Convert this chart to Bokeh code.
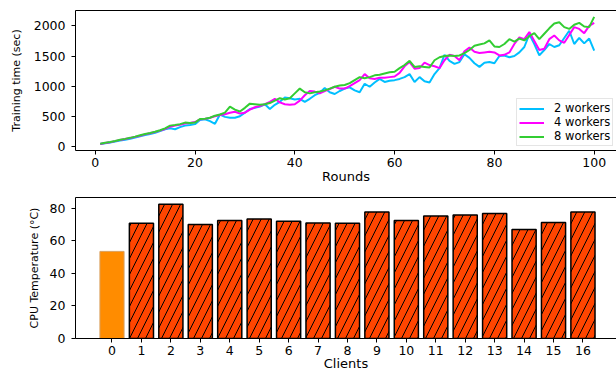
from bokeh.plotting import figure
from bokeh.layouts import column
from bokeh.models import Range1d, FixedTicker, LinearAxis
from bokeh.embed import file_html
from bokeh.resources import INLINE

# ---------------- data ----------------
rounds = list(range(1, 101))
w2 = [40, 52, 66, 82, 98, 112, 128, 148, 168, 188,
      205, 225, 255, 285, 300, 285, 320, 345, 355, 370,
      440, 450, 420, 375, 530, 490, 475, 475, 500, 560,
      620, 640, 660, 700, 620, 690, 740, 810, 800, 780,
      790, 740, 790, 850, 890, 970, 900, 870, 920, 960,
      980, 930, 900, 1040, 990, 1060, 1120, 1070, 1090, 1100,
      1120, 1150, 1200, 1070, 1150, 1080, 1060, 1200, 1300, 1520,
      1420, 1370, 1400, 1530, 1470, 1380, 1320, 1390, 1400, 1380,
      1500, 1510, 1480, 1500, 1560, 1650, 1860, 1700, 1510, 1600,
      1700, 1650, 1680, 1800, 1920, 1700, 1800, 1710, 1790, 1590]
w4 = [40, 55, 70, 88, 108, 122, 138, 158, 178, 200,
      218, 240, 262, 290, 325, 345, 360, 380, 390, 405,
      450, 455, 475, 500, 520, 535, 560, 575, 545, 560,
      610, 650, 670, 700, 740, 790, 730, 700, 690, 700,
      760, 850, 920, 910, 880, 920, 950, 990, 960, 960,
      1000, 1050, 1100, 1200, 1130, 1120, 1140, 1140, 1150, 1160,
      1220, 1330, 1400, 1290, 1300, 1390, 1350, 1330, 1300, 1430,
      1520, 1500, 1430, 1580, 1640, 1570, 1550, 1560, 1570, 1560,
      1510, 1520, 1560, 1700, 1810, 1780, 1900, 1750, 1600, 1620,
      1780, 1840, 1760, 1720, 1850, 1980, 1950, 1880, 2000, 2050]
w8 = [45, 60, 74, 90, 110, 125, 142, 162, 185, 205,
      222, 242, 268, 300, 345, 355, 370, 395, 390, 395,
      455, 460, 475, 510, 530, 560, 660, 610, 580, 640,
      710, 700, 690, 700, 720, 760, 800, 780, 800, 880,
      960, 900, 880, 900, 910, 930, 960, 990, 1010, 1020,
      1050, 1100, 1150, 1130, 1150, 1180, 1190, 1210, 1230, 1240,
      1300, 1350, 1420, 1320, 1330, 1320, 1310, 1430, 1480, 1500,
      1510, 1500, 1510, 1550, 1600, 1670, 1690, 1710, 1760, 1660,
      1650, 1700, 1780, 1740, 1790, 1760, 1830, 1880, 1780, 1870,
      1960, 2040, 2060, 1980, 1950, 2020, 2050, 1990, 1980, 2150]
series_names = ["2 workers", "4 workers", "8 workers"]
series_colors = ["#00BFFF", "#FF00FF", "#32CD32"]
round_ticks = [0, 20, 40, 60, 80, 100]
time_ticks = [0, 500, 1000, 1500, 2000]

clients = list(range(17))
temps = [53.5, 70.8, 82.5, 70.0, 72.4, 73.4, 72.0, 71.0, 70.8,
         77.7, 72.4, 75.3, 75.8, 76.7, 67.0, 71.2, 77.7]
temp_ticks = [0, 20, 40, 60, 80]

FONT = "DejaVu Sans"


def style_axes(p, ylabel_size, xlabel_standoff):
    p.grid.grid_line_color = None
    p.outline_line_color = None
    for ax in p.xaxis + p.yaxis:
        ax.axis_line_color = "black"
        ax.axis_line_width = 1
        ax.major_tick_line_color = "black"
        ax.major_tick_out = 4
        ax.major_tick_in = 0
        ax.minor_tick_out = 0
        ax.minor_tick_in = 0
        ax.major_label_text_font = FONT
        ax.major_label_text_font_size = "12.5px"
        ax.major_label_text_color = "black"
        ax.axis_label_text_font = FONT
        ax.axis_label_text_font_style = "normal"
        ax.axis_label_text_color = "black"
    p.xaxis.axis_label_text_font_size = "13px"
    p.xaxis.major_label_standoff = 3
    p.xaxis.axis_label_standoff = xlabel_standoff
    p.yaxis.axis_label_text_font_size = ylabel_size
    p.yaxis.major_label_standoff = 6
    top = LinearAxis(ticker=FixedTicker(ticks=[]), major_label_text_font_size="0px",
                     major_tick_out=0, minor_tick_out=0, axis_line_color="black")
    p.add_layout(top, "above")


# ---------------- top: training time ----------------
p1 = figure(width=616, height=187, output_backend="svg", toolbar_location=None,
            x_range=Range1d(-3.95, 104.47), y_range=Range1d(-68, 2256),
            min_border_left=75, min_border_right=0, min_border_top=10, min_border_bottom=37)
for ys, name, col in zip([w2, w4, w8], series_names, series_colors):
    p1.line(rounds, ys, line_color=col, line_width=2, legend_label=name)
p1.xaxis.ticker = FixedTicker(ticks=round_ticks)
p1.yaxis.ticker = FixedTicker(ticks=time_ticks)
p1.xaxis.axis_label = "Rounds"
p1.yaxis.axis_label = "Training time (sec)"
style_axes(p1, "11px", -1)
p1.yaxis.axis_label_standoff = 8
lg = p1.legend[0]
lg.location = (441, 4)
lg.margin = 0
lg.padding = 2
lg.spacing = 0
lg.glyph_width = 25
lg.glyph_height = 13
lg.label_height = 13
lg.label_standoff = 10
lg.label_text_font = FONT
lg.label_text_font_size = "11.5px"
lg.label_text_color = "black"
lg.border_line_color = "#cccccc"
lg.border_line_width = 1
lg.background_fill_alpha = 0.8

# ---------------- bottom: CPU temperature ----------------
p2 = figure(width=616, height=186, output_backend="svg", toolbar_location=None,
            x_range=Range1d(-1.24, 17.14), y_range=Range1d(0, 86.6),
            min_border_left=75, min_border_right=0, min_border_top=10, min_border_bottom=35)
p2.vbar(x=clients[:1], top=temps[:1], width=0.82, fill_color="#FF8C00",
        line_color="#d9a060", line_width=1)
p2.vbar(x=clients[1:], top=temps[1:], width=0.82, fill_color="#FF4500",
        line_color="black", line_width=1.5,
        hatch_pattern="/", hatch_color="black", hatch_scale=16, hatch_weight=1)
p2.xaxis.ticker = FixedTicker(ticks=clients)
p2.yaxis.ticker = FixedTicker(ticks=temp_ticks)
p2.xaxis.axis_label = "Clients"
p2.yaxis.axis_label = "CPU Temperature (°C)"
style_axes(p2, "11px", -2)
p2.yaxis.axis_label_standoff = 6

layout = column(p1, p2, spacing=0)
open("out.html", "w").write(file_html(layout, INLINE))
